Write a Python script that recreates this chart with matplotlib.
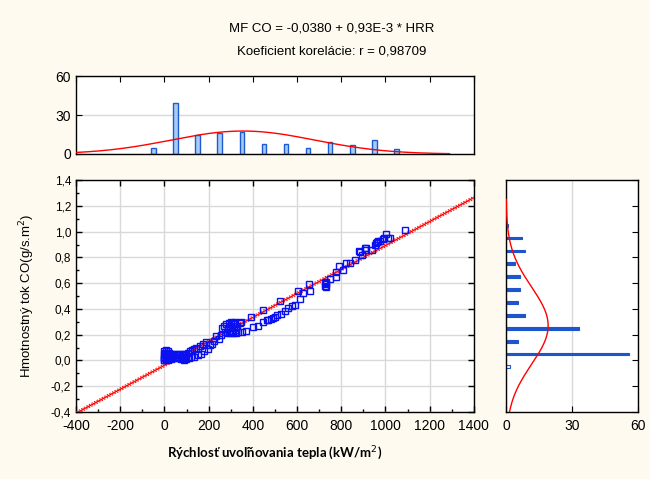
import matplotlib
matplotlib.use('Agg')
import matplotlib.pyplot as plt
from matplotlib.ticker import MultipleLocator, FuncFormatter
import numpy as np

plt.rcParams['font.family'] = ['Liberation Sans', 'DejaVu Sans']
plt.rcParams['axes.unicode_minus'] = False

# scatter data: HRR (kW/m2) vs MF CO (g/s.m2)
hrr = [-4, -3, -2, -2, -1,
       0, 2, 3, 5, 6, 8, 10, 12, 14, 16, 18, 20, 22, 25, 28, 30, 33, 36, 40, 44,
       48, 52, 55, 58, 62, 65, 68, 72, 75, 78, 80, 83, 86, 88, 90, 92, 95, 97, 99,
       105, 115, 125, 135, 145, 160, 175, 190, 110, 120, 135, 150, 165, 180, 195,
       205, 215, 225, 235, 245, 255, 262, 270, 275, 280, 283, 288, 290, 293, 296, 298,
       302, 305, 308, 310, 313, 315, 318, 320, 323, 326, 330, 335, 340, 347, 350, 370, 392,
       400, 423, 445, 445, 464, 470, 480, 490,
       498, 510, 521, 527, 545, 561, 576, 590,
       605, 615, 627, 653, 658,
       727, 728, 730, 731, 733, 751, 775, 775, 790,
       808, 820, 838, 860, 879, 885, 894,
       906, 908, 911, 940, 952, 957, 963, 968, 975, 990, 995,
       1004, 1010, 1019, 1090]
mfco = [0.00, 0.03, 0.05, 0.07, 0.02,
        0.00, 0.04, 0.06, 0.08, 0.01, 0.03, 0.05, 0.02, 0.07, 0.00, 0.04, 0.06, 0.02, 0.03, 0.05, 0.01, 0.04, 0.02, 0.03, 0.05,
        0.02, 0.04, 0.03, 0.05, 0.02, 0.04, 0.03, 0.05, 0.01, 0.04, 0.02, 0.05, 0.03, 0.00, 0.04, 0.02, 0.05, 0.03, 0.01,
        0.06, 0.07, 0.08, 0.09, 0.10, 0.11, 0.13, 0.14, 0.02, 0.03, 0.03, 0.04, 0.05, 0.07, 0.09,
        0.12, 0.13, 0.15, 0.19, 0.17, 0.20, 0.25, 0.27, 0.22, 0.28, 0.21, 0.25, 0.29, 0.22, 0.27, 0.21,
        0.30, 0.23, 0.28, 0.21, 0.25, 0.29, 0.22, 0.30, 0.24, 0.21, 0.27, 0.22, 0.29, 0.30, 0.22, 0.23, 0.34,
        0.26, 0.27, 0.30, 0.39, 0.31, 0.31, 0.32, 0.33,
        0.34, 0.35, 0.46, 0.36, 0.38, 0.41, 0.42, 0.43,
        0.54, 0.48, 0.52, 0.59, 0.54,
        0.58, 0.60, 0.59, 0.61, 0.57, 0.63, 0.65, 0.69, 0.73,
        0.70, 0.76, 0.76, 0.78, 0.85, 0.84, 0.82,
        0.86, 0.87, 0.87, 0.86, 0.90, 0.91, 0.92, 0.93, 0.93, 0.94, 0.95,
        0.98, 0.95, 0.95, 1.01]

# regression from the title
intercept = -0.0380
slope = 0.93e-3

# histogram of HRR (top panel)
hrr_bins = [-50, 50, 150, 250, 350, 450, 550, 650, 750, 850, 950, 1050]
hrr_counts = [5, 39, 15, 16, 17, 8, 8, 5, 9, 7, 11, 4]
hrr_mean, hrr_sd, hrr_width = 355, 325, 100

# histogram of MF CO (right panel)
co_bins = [-0.05, 0.05, 0.15, 0.25, 0.35, 0.45, 0.55, 0.65, 0.75, 0.85, 0.95, 1.05]
co_counts = [2, 56, 5.5, 33, 8.7, 5.5, 6.2, 6.2, 4.3, 8.7, 7.4, 1]
co_mean, co_sd, co_width = 0.27, 0.30, 0.1
n_obs = 144

bg = '#fefaf0'
grid_c = '#d9d9d9'
comma = FuncFormatter(lambda v, p: f'{v:.1f}'.replace('.', ','))

fig = plt.figure(figsize=(6.5, 4.79), dpi=100, facecolor=bg)
ax = fig.add_axes([0.117, 0.140, 0.612, 0.484])
axt = fig.add_axes([0.117, 0.6785, 0.612, 0.1628])
axr = fig.add_axes([0.7785, 0.140, 0.203, 0.484])

# main scatter
xl = np.array([-400, 1400])
ax.plot(xl, intercept + slope * xl, color='red', lw=1.0, zorder=3)
for off in (-0.012, 0.012):
    ax.plot(xl, intercept + slope * xl + off, color='red', lw=0.7,
            dashes=(1.5, 1.5), zorder=3)
ax.plot(hrr, mfco, ls='none', marker='s', ms=3.8, mfc='none', mec='#0a10f0',
        mew=1.0, zorder=4)
ax.set_xlim(-400, 1400)
ax.set_ylim(-0.4, 1.4)
ax.xaxis.set_major_locator(MultipleLocator(200))
ax.xaxis.set_minor_locator(MultipleLocator(100))
ax.yaxis.set_major_locator(MultipleLocator(0.2))
ax.yaxis.set_minor_locator(MultipleLocator(0.1))
ax.yaxis.set_major_formatter(comma)
ax.grid(True, color=grid_c, lw=1.0)
ax.tick_params(which='both', direction='in', top=True, right=True)
ax.tick_params(which='major', length=4, width=1)
ax.tick_params(which='minor', length=2.5, width=1, top=False, right=False)
ax.tick_params(axis='x', labelsize=10, pad=5)
ax.tick_params(axis='y', labelsize=8.5)
ax.set_xlabel('Rýchlosť uvoľňovania tepla (kW/m$^2$)', fontsize=9.5,
              fontweight='bold', labelpad=8, family=['Lato', 'DejaVu Sans'])
ax.set_ylabel('Hmotnostný tok CO(g/s.m$^2$)', fontsize=9.5, labelpad=10)

# top histogram
axt.bar(hrr_bins, hrr_counts, width=20, color='#a8cbf2', edgecolor='#1d5bd0',
        lw=1.0, zorder=2)
xt = np.linspace(-400, 1290, 300)
axt.plot(xt, n_obs * hrr_width / (hrr_sd * np.sqrt(2 * np.pi))
         * np.exp(-0.5 * ((xt - hrr_mean) / hrr_sd) ** 2), color='red', lw=1.0, zorder=3)
axt.set_xlim(-400, 1400)
axt.set_ylim(0, 60)
axt.set_yticks([0, 30, 60])
axt.xaxis.set_major_locator(MultipleLocator(200))
axt.set_xticklabels([])
axt.grid(True, axis='y', color=grid_c, lw=1.0)
axt.tick_params(direction='in', top=True, bottom=False, length=4, labelsize=10)

# right histogram
co_face = ['white' if v < 0 else '#1c55cc' for v in co_bins]
axr.barh(co_bins, co_counts, height=0.022, color=co_face, edgecolor='#1c55cc',
         lw=0.8, zorder=2)
yr = np.linspace(-0.4, 1.25, 300)
axr.plot(n_obs * co_width / (co_sd * np.sqrt(2 * np.pi))
         * np.exp(-0.5 * ((yr - co_mean) / co_sd) ** 2), yr, color='red', lw=1.0, zorder=3)
axr.set_xlim(0, 60)
axr.set_ylim(-0.4, 1.4)
axr.set_xticks([0, 30, 60])
axr.yaxis.set_major_locator(MultipleLocator(0.2))
axr.set_yticklabels([])
axr.grid(True, axis='x', color=grid_c, lw=1.0)
axr.tick_params(direction='in', right=True, left=False, length=4, labelsize=10, pad=5)

for a in (ax, axt, axr):
    a.set_facecolor('white')
    for s in a.spines.values():
        s.set_linewidth(1.0)
    a.set_axisbelow(True)

fig.text(0.51, 0.94, 'MF CO = -0,0380 + 0,93E-3 * HRR', ha='center', va='center', fontsize=9.5)
fig.text(0.51, 0.892, 'Koeficient korelácie: r = 0,98709', ha='center', va='center', fontsize=9.5)

fig.savefig('out.png', dpi=100, facecolor=bg)
